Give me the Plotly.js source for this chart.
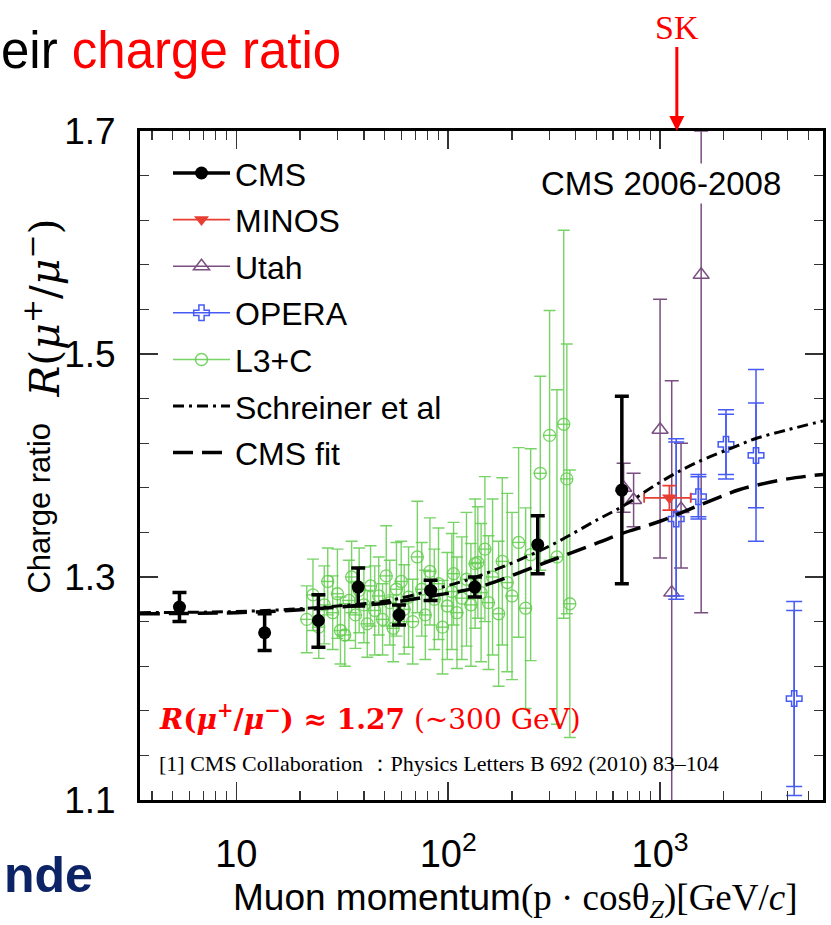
<!DOCTYPE html>
<html>
<head>
<meta charset="utf-8">
<script src="https://cdn.plot.ly/plotly-3.0.1.min.js"></script>
<style>html,body{margin:0;padding:0;background:#fff;}#chart{width:831px;height:925px;}</style>
</head>
<body>
<div id="chart"></div>
<script>
// ---------- data ----------
const cmsX = [5.39, 13.6, 24.4, 37.6, 58.6, 82.6, 133.6, 264.6, 660];
const cmsY = [1.273, 1.250, 1.261, 1.291, 1.266, 1.288, 1.291, 1.329, 1.378];
const cmsErrUp = [0.013, 0.017, 0.023, 0.017, 0.009, 0.009, 0.009, 0.026, 0.084];
const cmsErrDown = [0.013, 0.016, 0.024, 0.017, 0.009, 0.009, 0.009, 0.026, 0.084];

const minosX = [1107];
const minosY = [1.371];
const minosErrY = [0.011];
const minosErrXMinus = [266];
const minosErrXPlus = [289];

const utahX = [673, 750, 1000, 1135, 1256, 1563];
const utahY = [1.380, 1.369, 1.432, 1.286, 1.361, 1.571];
const utahErrUp = [0.022, 0.024, 0.117, 0.19, 0.059, 0.129];
const utahErrDown = [0.022, 0.024, 0.115, 0.20, 0.053, 0.303];

const operaX = [1192, 1517, 2047, 2837, 4295];
const operaY = [1.352, 1.372, 1.419, 1.409, 1.191];
const operaErrTot = [0.072, 0.020, 0.031, 0.077, 0.087];
const operaErrStat = [0.069, 0.018, 0.027, 0.047, 0.079];

const l3cX = [21.5, 23, 24.5, 26, 27, 28.5, 30, 31, 32.5, 34, 35, 36.5, 38, 40, 41.5, 43, 45, 47, 49, 51,
  53, 55, 57, 60, 62, 65, 68, 71.5, 75, 78, 82, 86, 90, 94, 99, 104, 106, 110, 116, 122,
  128, 134, 138, 143, 149, 155, 162, 173, 180, 190, 200, 215, 232, 245, 272, 301, 326, 351, 363, 375];
const l3cY = [1.262, 1.284, 1.255, 1.275, 1.296, 1.268, 1.285, 1.252, 1.248, 1.279, 1.300, 1.266, 1.288, 1.275, 1.258, 1.292, 1.270, 1.283, 1.262, 1.301,
  1.277, 1.254, 1.289, 1.296, 1.271, 1.282, 1.260, 1.318, 1.289, 1.266, 1.305, 1.280, 1.294, 1.255, 1.274, 1.287, 1.303, 1.268, 1.281, 1.298,
  1.275, 1.312, 1.313, 1.286, 1.325, 1.277, 1.300, 1.267, 1.314, 1.295, 1.283, 1.331, 1.272, 1.320, 1.393, 1.427, 1.318, 1.437, 1.388, 1.276];
const l3cErr = [0.030, 0.032, 0.028, 0.035, 0.030, 0.033, 0.040, 0.030, 0.028, 0.036, 0.032, 0.030, 0.038, 0.034, 0.030, 0.036, 0.040, 0.035, 0.032, 0.045,
  0.038, 0.030, 0.042, 0.036, 0.040, 0.045, 0.038, 0.050, 0.042, 0.040, 0.048, 0.045, 0.050, 0.042, 0.048, 0.052, 0.046, 0.050, 0.055, 0.060,
  0.055, 0.058, 0.050, 0.062, 0.065, 0.060, 0.070, 0.065, 0.075, 0.080, 0.075, 0.085, 0.090, 0.095, 0.087, 0.112, 0.150, 0.174, 0.121, 0.120];

const fitX = [3.5, 10, 17.8, 30, 52.6, 90, 140, 288, 513, 660, 1000, 1517, 2340, 2806, 4000, 5875];
const fitY = [1.267, 1.268, 1.270, 1.273, 1.277, 1.284, 1.291, 1.313, 1.331, 1.339, 1.350, 1.364, 1.378, 1.382, 1.388, 1.392];

const schX = [3.5, 10, 17.8, 30, 52.6, 90, 140, 288, 513, 660, 1000, 1462, 2340, 2806, 4000, 5875];
const schY = [1.268, 1.269, 1.271, 1.274, 1.279, 1.290, 1.301, 1.326, 1.352, 1.363, 1.385, 1.402, 1.418, 1.424, 1.432, 1.440];

const xTickVals = [10, 100, 1000];
const xTickText = ['10', '10<sup>2</sup>', '10<sup>3</sup>'];
const xMinorDigits = [2, 3, 4, 5, 6, 7, 8, 9];
const xDecades = [1, 10, 100, 1000];
const yTickVals = [1.1, 1.3, 1.5, 1.7];

// ---------- styles ----------
const cRed = 'rgb(232,62,50)';
const cPurple = 'rgb(122,78,128)';
const cBlue = 'rgb(70,90,245)';
const cGreen = 'rgba(98,205,78,0.85)';
const sans = 'Liberation Sans, Arial, sans-serif';
const serif = 'Liberation Serif, Times New Roman, serif';
const mathSerif = 'DejaVu Serif, serif';

const xMinor = [];
xDecades.forEach(d => xMinorDigits.forEach(k => xMinor.push(d * k)));

const traces = [];
traces.push({
  x: l3cX, y: l3cY, mode: 'markers', type: 'scatter', showlegend: false,
  marker: {symbol: 'circle-open', size: 12, color: cGreen, line: {width: 1.3, color: cGreen}},
  error_y: {type: 'data', array: l3cErr, color: cGreen, thickness: 1.4, width: 6},
  error_x: {type: 'percent', value: 7, color: cGreen, thickness: 1.4, width: 0}
});
traces.push({
  x: utahX, y: utahY, mode: 'markers', type: 'scatter', showlegend: false,
  marker: {symbol: 'triangle-up-open', size: 14, color: cPurple, line: {width: 1.5, color: cPurple}},
  error_y: {type: 'data', array: utahErrUp, arrayminus: utahErrDown, color: cPurple, thickness: 1.5, width: 7}
});
traces.push({
  x: operaX, y: operaY, mode: 'markers', type: 'scatter', showlegend: false,
  marker: {symbol: 'cross-open', size: 13, color: cBlue, line: {width: 1.5, color: cBlue}},
  error_y: {type: 'data', array: operaErrTot, color: cBlue, thickness: 1.5, width: 8}
});
traces.push({
  x: operaX, y: operaY, mode: 'markers', type: 'scatter', showlegend: false,
  marker: {size: 1, color: 'rgba(0,0,0,0)'},
  error_y: {type: 'data', array: operaErrStat, color: cBlue, thickness: 1.5, width: 8}
});
traces.push({
  x: minosX, y: minosY, mode: 'markers', type: 'scatter', showlegend: false,
  marker: {symbol: 'triangle-down', size: 13, color: cRed},
  error_y: {type: 'data', array: minosErrY, color: cRed, thickness: 1.8, width: 7},
  error_x: {type: 'data', array: minosErrXPlus, arrayminus: minosErrXMinus, color: cRed, thickness: 1.8, width: 5}
});
traces.push({
  x: schX, y: schY, mode: 'lines', type: 'scatter', showlegend: false,
  line: {color: 'black', width: 3, dash: '11px,5px,3px,5px', shape: 'spline'}
});
traces.push({
  x: fitX, y: fitY, mode: 'lines', type: 'scatter', showlegend: false,
  line: {color: 'black', width: 3.5, dash: '20px,9px', shape: 'spline'}
});
traces.push({
  x: cmsX, y: cmsY, mode: 'markers', type: 'scatter', showlegend: false,
  marker: {symbol: 'circle', size: 13, color: 'black'},
  error_y: {type: 'data', array: cmsErrUp, arrayminus: cmsErrDown, color: 'black', thickness: 3.5, width: 7}
});

// legend entries (no data drawn)
const legendDefs = [
  {name: 'CMS', mode: 'lines+markers', line: {color: 'black', width: 3.5}, marker: {symbol: 'circle', size: 13, color: 'black'}},
  {name: 'MINOS', mode: 'lines+markers', line: {color: cRed, width: 1.8}, marker: {symbol: 'triangle-down', size: 13, color: cRed}},
  {name: 'Utah', mode: 'lines+markers', line: {color: cPurple, width: 1.5}, marker: {symbol: 'triangle-up-open', size: 14, color: cPurple, line: {width: 1.5, color: cPurple}}},
  {name: 'OPERA', mode: 'lines+markers', line: {color: cBlue, width: 1.5}, marker: {symbol: 'cross-open', size: 13, color: cBlue, line: {width: 1.5, color: cBlue}}},
  {name: 'L3+C', mode: 'lines+markers', line: {color: cGreen, width: 1.5}, marker: {symbol: 'circle-open', size: 12, color: cGreen, line: {width: 1.5, color: cGreen}}},
  {name: 'Schreiner et al', mode: 'lines', line: {color: 'black', width: 3, dash: '11px,5px,3px,5px'}},
  {name: 'CMS fit', mode: 'lines', line: {color: 'black', width: 3.5, dash: '20px,9px'}}
];
legendDefs.forEach((d, i) => {
  traces.push(Object.assign({x: [null], y: [null], type: 'scatter', showlegend: true, legendgroup: 'g' + i}, d));
});

const layout = {
  width: 831, height: 925,
  margin: {l: 140, r: 8, t: 131, b: 125},
  paper_bgcolor: 'white', plot_bgcolor: 'white',
  showlegend: true,
  legend: {x: 0.041, y: 0.978, xanchor: 'left', yanchor: 'top', bgcolor: 'rgba(0,0,0,0)',
    font: {family: sans, size: 32, color: 'black'}, tracegroupgap: 2, itemwidth: 57},
  xaxis: {
    type: 'log', range: [Math.log10(3.51), Math.log10(5875)],
    tickmode: 'array', tickvals: xTickVals, ticktext: xTickText,
    ticks: 'inside', ticklen: 18, tickwidth: 1.5, tickcolor: '#333',
    showline: true, linewidth: 3, linecolor: 'black', mirror: 'allticks',
    showgrid: false, zeroline: false,
    tickfont: {family: sans, size: 38, color: 'black'}, ticklabelstandoff: 18,
    minor: {tickmode: 'array', tickvals: xMinor, ticks: 'inside', ticklen: 9, tickwidth: 1.3, tickcolor: '#333', showgrid: false}
  },
  yaxis: {
    range: [1.1, 1.7], tickmode: 'array', tickvals: yTickVals,
    ticks: 'inside', ticklen: 18, tickwidth: 1.5, tickcolor: '#333',
    showline: true, linewidth: 3, linecolor: 'black', mirror: 'allticks',
    showgrid: false, zeroline: false,
    tickfont: {family: sans, size: 37, color: 'black'}, ticklabelstandoff: 14,
    minor: {dtick: 0.04, tick0: 1.1, ticks: 'inside', ticklen: 9, tickwidth: 1.3, tickcolor: '#333', showgrid: false}
  },
  annotations: [
    {xref: 'paper', yref: 'paper', x: 0.763, y: 0.922, text: 'CMS 2006-2008', showarrow: false,
     font: {family: sans, size: 33, color: 'black'}, bgcolor: 'white', xanchor: 'center', yanchor: 'middle'},
    {xref: 'paper', yref: 'paper', x: 0.025, y: 0.124, xanchor: 'left', yanchor: 'middle', showarrow: false,
     text: '<b><i>R</i>(<i>μ</i><sup>+</sup>/<i>μ</i><sup>−</sup>) ≈ 1.27</b> (~300 GeV)',
     font: {family: mathSerif, size: 28, color: 'rgb(255,0,0)'}},
    {xref: 'paper', yref: 'paper', x: 0.025, y: 0.055, xanchor: 'left', yanchor: 'middle', showarrow: false,
     text: '[1] CMS Collaboration ：Physics Letters B 692 (2010) 83–104',
     font: {family: serif, size: 22, color: 'black'}},
    {xref: 'paper', yref: 'paper', x: 0.786, y: 1.0, ax: 0, ay: -104, axref: 'pixel', ayref: 'pixel',
     text: 'SK', showarrow: true, arrowhead: 2, arrowsize: 1, arrowwidth: 3, arrowcolor: 'rgb(255,0,0)', standoff: 0,
     font: {family: serif, size: 34, color: 'rgb(255,0,0)'}},
    {xref: 'paper', yref: 'paper', x: 0.5505, y: -0.1495, xanchor: 'center', yanchor: 'middle', showarrow: false,
     text: '<span style="font-family:Liberation Sans">Muon momentum</span>(p · cosθ<sub><i>Z</i></sub>)[GeV/<i>c</i>]',
     font: {family: serif, size: 37, color: 'black'}},
    {xref: 'paper', yref: 'paper', x: -0.1464, y: 0.4357, xanchor: 'center', yanchor: 'middle', showarrow: false, textangle: -90,
     text: 'Charge ratio', font: {family: sans, size: 31, color: 'black'}},
    {xref: 'paper', yref: 'paper', x: -0.143, y: 0.735, xanchor: 'center', yanchor: 'middle', showarrow: false, textangle: -90,
     text: '<i>R</i>(<i>μ</i><sup>+</sup>/<i>μ</i><sup>−</sup>)', font: {family: mathSerif, size: 41, color: 'black'}},
    {xref: 'paper', yref: 'paper', x: (343 - 140) / 683, y: 1.121, xanchor: 'right', yanchor: 'middle', showarrow: false,
     text: 'eir <span style="color:rgb(255,0,0)">charge ratio</span>',
     font: {family: sans, size: 51, color: 'black'}},
    {xref: 'paper', yref: 'paper', x: (95 - 140) / 683, y: -0.112, xanchor: 'right', yanchor: 'middle', showarrow: false,
     text: '<b>nde</b>', font: {family: sans, size: 50, color: 'rgb(12,36,102)'}}
  ]
};

Plotly.newPlot('chart', traces, layout, {displayModeBar: false, staticPlot: true});
</script>
</body>
</html>
